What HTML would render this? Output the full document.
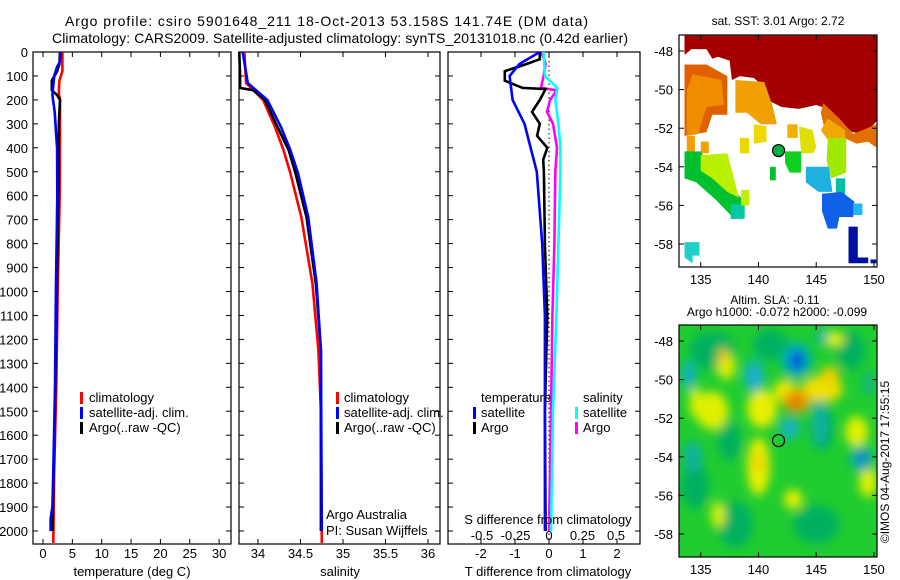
<!DOCTYPE html>
<html><head><meta charset="utf-8">
<style>
html,body{margin:0;padding:0;background:#fff;}
svg{display:block;font-family:"Liberation Sans",sans-serif;}
</style></head>
<body>
<svg id="fig" width="900" height="580" viewBox="0 0 900 580" xmlns="http://www.w3.org/2000/svg">
<defs>
<clipPath id="clipMapTop"><rect x="679" y="35" width="198" height="232"/></clipPath>
<clipPath id="clipMapBot"><rect x="679" y="325" width="198" height="232"/></clipPath>
<filter id="blur6" x="-50%" y="-50%" width="200%" height="200%"><feGaussianBlur stdDeviation="5"/></filter>
</defs>
<text x="65" y="26" font-size="14" textLength="523" lengthAdjust="spacing">Argo profile: csiro 5901648_211 18-Oct-2013 53.158S 141.74E (DM data)</text>
<text x="52" y="43" font-size="14" textLength="576" lengthAdjust="spacing">Climatology: CARS2009. Satellite-adjusted climatology: synTS_20131018.nc (0.42d earlier)</text>
<g id="g"></g>
</svg>
<script>
// ---- data (depth in m) ----
const tempClimDepth = [0,80,120,170,200,330,600,1000,1400,1750,2050];
const tempClimVal   = [3.3,3.3,2.8,2.7,2.9,2.9,2.85,2.5,2.27,1.9,1.75];
const tempSatDepth  = [0,40,62,100,180,250,330,400,600,1000,1400,1750,1900,1950,2000];
const tempSatVal    = [3.05,2.9,2.4,1.9,1.6,2.0,2.2,2.4,2.44,2.2,2.04,1.75,1.6,1.3,1.3];
const tempArgoDepth = [0,50,80,120,160,180,200,300,400,600,1000,1400,1750,2000];
const tempArgoVal   = [2.9,2.8,2.4,1.5,1.5,2.4,2.9,2.7,2.7,2.6,2.35,2.1,1.8,1.6];

const salClimDepth = [0,130,200,313,409,505,689,966,1245,1495,2050];
const salClimVal   = [33.84,33.86,34.06,34.2,34.30,34.38,34.51,34.64,34.71,34.74,34.75];
const salSatDepth  = [0,130,200,313,409,505,689,966,1245,2000];
const salSatVal    = [33.82,33.88,34.11,34.27,34.38,34.47,34.59,34.69,34.74,34.75];
const salArgoDepth = [0,100,150,160,200,313,409,505,689,966,1245,2000];
const salArgoVal   = [33.78,33.79,33.79,33.95,34.08,34.23,34.36,34.44,34.57,34.68,34.74,34.74];

const dTSatDepth  = [0,50,100,200,300,500,800,1100,2000];
const dTSatVal    = [-0.27,-0.87,-1.16,-1.07,-0.72,-0.36,-0.2,-0.12,-0.12];
const dTArgoDepth = [0,30,50,80,120,150,155,200,250,300,350,400,450,500,800,1100,1500,2000];
const dTArgoVal   = [-0.27,-0.27,-0.66,-1.3,-1.3,-0.78,-0.1,-0.27,-0.5,-0.27,-0.35,-0.05,-0.17,-0.15,-0.12,-0.05,-0.12,-0.1];
const dSArgoDepth = [0,50,100,150,160,200,250,300,350,400,500,800,1100,1500,2000];
const dSArgoVal   = [-0.055,-0.025,-0.04,-0.06,0.058,0.008,-0.015,0.03,0.045,0.06,0.047,0.04,0.025,0.015,0.0];
const dSSatDepth  = [0,100,150,200,300,400,500,800,1100,1500,2000];
const dSSatVal    = [-0.04,-0.03,0.062,0.047,0.07,0.085,0.085,0.07,0.055,0.03,0.015];

const depthTicks = [0,100,200,300,400,500,600,700,800,900,1000,1100,1200,1300,1400,1500,1600,1700,1800,1900,2000];
const tempTicks = [0,5,10,15,20,25,30];
const salTicks = [34,34.5,35,35.5,36];
const salTickLabels = ["34","34.5","35","35.5","36"];
const dTTicks = [-2,-1,0,1,2];
const dSTicks = [-0.5,-0.25,0,0.25,0.5];
const dSTickLabels = ["-0.5","-0.25","0","0.25","0.5"];
const lonTicks = [135,140,145,150];
const latTicks = [-48,-50,-52,-54,-56,-58];

// ---- SST map regions: [color, lon/lat polygon pairs]
const sstRegions = [
 ["#a50000",[[133.6,-47.2],[150.3,-47.2],[150.3,-51.6],[149.2,-52.3],[148.1,-52.2],[147,-51.6],[146,-51],[145,-50.8],[143.5,-51],[142,-50.9],[141,-50.6],[140.6,-49.9],[139.6,-49.4],[138.4,-49.3],[137.7,-49.5],[137.5,-48.5],[136.5,-48.3],[136,-48.4],[135.5,-47.9],[134.2,-47.9],[133.6,-48.2]]],
 ["#e06000",[[133.6,-48.7],[135.5,-48.7],[137.3,-49.3],[137.3,-51.3],[136,-51.3],[135.5,-52.2],[133.6,-52.4]]],
 ["#f08c00",[[134.3,-49.2],[136.8,-49.5],[137,-50.8],[135.5,-50.9],[134.8,-52.3],[133.8,-52.4],[133.8,-50]]],
 ["#f0a000",[[138,-49.5],[140.5,-49.6],[141.2,-50.8],[141.6,-51.8],[140.2,-51.8],[139,-51.2],[138,-51.2]]],
 ["#e07000",[[145.6,-50.7],[147,-51.5],[148.2,-52.3],[150.2,-51.8],[150.2,-53.0],[149.5,-52.7],[148.5,-52.8],[147,-52.4],[145.8,-52.2],[145.4,-51.2]]],
 ["#f0a800",[[146,-51.5],[147.5,-52.1],[147.5,-52.6],[146,-52.6],[145.4,-52.1]]],
 ["#f0b000",[[142.5,-51.8],[143.4,-51.8],[143.4,-52.5],[142.5,-52.5]]],
 ["#f0a000",[[133.8,-52.4],[134.5,-52.4],[134.5,-53.6],[133.8,-53.6]]],
 ["#f0a000",[[135,-52.7],[135.7,-52.7],[135.7,-53.3],[135,-53.3]]],
 ["#f0d800",[[139.6,-51.8],[140.7,-51.9],[140.7,-52.7],[139.6,-52.8]]],
 ["#e8d800",[[138.4,-52.5],[139.2,-52.5],[139.2,-53.3],[138.4,-53.3]]],
 ["#e0e000",[[143.5,-51.9],[144.7,-52.1],[145,-53.0],[144.7,-53.3],[143.7,-53.3]]],
 ["#00c030",[[133.6,-53.2],[135,-53.2],[136.2,-54.4],[138,-55.3],[138.8,-55.8],[138.8,-56.6],[137.6,-56.5],[136.3,-55.7],[134.6,-54.8],[133.6,-54.6]]],
 ["#b8f000",[[135,-53.4],[137.3,-53.3],[137.8,-54.4],[138.3,-55.6],[137.3,-55.3],[136,-54.6],[135,-54.2]]],
 ["#00c8a0",[[137.6,-55.9],[138.8,-56.0],[138.8,-56.7],[137.6,-56.7]]],
 ["#c0f000",[[138.5,-55.2],[139.2,-55.2],[139.2,-56],[138.5,-56]]],
 ["#00c030",[[141,-54],[141.5,-54],[141.5,-54.7],[141,-54.7]]],
 ["#10d020",[[142.3,-53.2],[143.7,-53.2],[143.7,-54.3],[142.7,-54.3],[142.3,-53.8]]],
 ["#a0e800",[[146,-52.5],[147.6,-52.5],[147.6,-54.3],[146.3,-54.6],[145.9,-53.7]]],
 ["#20b0e0",[[144.1,-54],[146.1,-54],[146.4,-55.3],[145.2,-55.3],[144.1,-54.8]]],
 ["#00c0a0",[[146.7,-54.6],[147.5,-54.6],[147.5,-55.5],[146.7,-55.5]]],
 ["#1060e8",[[145.5,-55.4],[147.2,-55.3],[148.3,-55.8],[148.2,-56.6],[147,-56.6],[146.8,-57.2],[146,-57.2],[145.5,-56.3]]],
 ["#20b8f0",[[148.2,-55.9],[149,-55.9],[149,-56.5],[148.2,-56.5]]],
 ["#0010a0",[[147.8,-57.1],[148.6,-57.1],[148.6,-58.7],[149.5,-58.7],[149.5,-59.0],[147.8,-59.0]]],
 ["#0010a0",[[149.7,-58.8],[150.2,-58.8],[150.2,-59.0],[149.7,-59.0]]],
 ["#20d0c8",[[133.6,-57.9],[134.9,-57.9],[134.9,-58.6],[134.3,-58.6],[134.3,-59],[133.6,-58.7]]]
];
// ---- SLA map blobs: [color, lon, lat, rx(deg), ry(deg)]
const slaBlobs = [
 ["#00b060",136,-48.5,2.0,1.0],["#00b060",141,-48.2,1.5,0.8],["#00b060",134.5,-55.5,1.2,1.2],
 ["#00b060",138,-57.5,1.5,1.2],["#00b060",145,-57.5,2.0,1.0],["#00b060",148,-48.5,1.2,1.0],
 ["#00b060",137.5,-53.2,1.0,1.0],["#00b060",145.5,-52.5,1.0,1.2],
 ["#e8f000",140.3,-51.5,1.3,1.0],["#e0f000",136,-51.6,1.4,1.0],["#e8f000",140,-54.5,1.0,1.5],
 ["#f0e000",145.5,-50.5,1.8,0.7],["#f0d000",146.2,-49.8,0.8,0.5],["#e8e800",142.3,-50.6,1.0,0.6],
 ["#f0a000",143.3,-51.1,1.2,0.6],["#e07000",143.2,-51.2,0.5,0.35],["#e0f000",148.5,-52.7,1.0,0.8],
 ["#e0f000",149.5,-55.3,0.8,0.8],["#e0f000",137.2,-49.3,0.8,0.7],
 ["#f0c000",136.9,-48.8,0.35,0.45],["#f0d000",140,-54.3,0.45,0.5],["#e8f000",143,-56.2,0.8,0.5],
 ["#d8f000",136.5,-57,0.6,0.7],["#e0f000",146.5,-47.9,0.9,0.4],["#d8f000",134.6,-51.2,0.6,0.8],
 ["#00b890",143.3,-49.0,1.4,1.0],["#1080f0",143.3,-49.0,0.8,0.6],["#0020b0",143.4,-49.0,0.35,0.35],
 ["#10b8b0",134,-49.8,0.6,0.8],["#10a0e0",133.9,-49.6,0.3,0.35],["#10b8b0",139.6,-49.8,0.9,0.9],["#20a8e0",139.7,-49.9,0.4,0.5],
 ["#10b0a0",142.7,-52.5,0.9,0.6],["#20b8e0",142.8,-52.6,0.4,0.3],["#10b0a0",145.3,-52.2,0.7,1.2],
 ["#10b0a0",148.9,-54.1,1.0,0.7],["#1060e0",149,-54.1,0.3,0.4],["#10b0a0",134.3,-54.0,0.8,0.8],
 ["#10b0b0",145.5,-47.8,0.5,0.4],["#10b0a0",149.5,-50.2,0.4,0.6]
];

const SVGNS="http://www.w3.org/2000/svg";
const G=document.getElementById('g');
function mk(tag,attrs,parent){const e=document.createElementNS(SVGNS,tag);for(const k in attrs)e.setAttribute(k,attrs[k]);(parent||G).appendChild(e);return e;}

// axis functions
const Y0=52, YS=0.2395;
function yD(z){return Y0+YS*z;}
function xT(t){return 43+5.87*t;}
function xS(s){return 258+85*(s-34);}
function xdT(d){return 549+34*d;}
function xdS(d){return 549+134*d;}
const PTOP=52, PBOT=544;
const panels=[{x1:33,x2:231},{x1:239,x2:440},{x1:448,x2:640}];

function frame(p,name){
  const r=mk('rect',{x:p.x1,y:PTOP,width:p.x2-p.x1,height:PBOT-PTOP,fill:'none',stroke:'#000','stroke-width':1.2});
  
  
  depthTicks.forEach(z=>{
    mk('line',{x1:p.x1,x2:p.x1+5,y1:yD(z),y2:yD(z),stroke:'#000'});
    mk('line',{x1:p.x2,x2:p.x2-5,y1:yD(z),y2:yD(z),stroke:'#000'});
  });
}
function xticks(vals,fx,labels,ly,name){
  vals.forEach((v,i)=>{
    const x=fx(v);
    mk('line',{x1:x,x2:x,y1:PTOP,y2:PTOP+5,stroke:'#000'});
    mk('line',{x1:x,x2:x,y1:PBOT,y2:PBOT-5,stroke:'#000'});
    if(ly){const t=mk('text',{x:x,y:ly,'font-size':13,'text-anchor':'middle'});t.textContent=labels?labels[i]:String(v);
      
      }
  });
}
function line(xs,zs,fx,color,name){
  let d='';
  for(let i=0;i<xs.length;i++){d+=(i?'L':'M')+fx(xs[i]).toFixed(1)+','+yD(zs[i]).toFixed(1);}
  const p=mk('path',{d:d,fill:'none',stroke:color,'stroke-width':2.6,'stroke-linejoin':'miter'});
  
  
}
function txt(x,y,s,name,extra){const t=mk('text',Object.assign({x:x,y:y,'font-size':13},extra||{}));t.textContent=s;
  
  return t;}
function legBar(x,y,color,name){const r=mk('rect',{x:x,y:y-10,width:3,height:12,fill:color});
  
  }

// Panel 1 temperature
frame(panels[0],'temperature-panel-frame');
depthTicks.forEach(z=>{txt(28,yD(z)+5,String(z),'depth-tick-label',{'text-anchor':'end'});});
xticks(tempTicks,xT,null,558,'temperature-tick-label');
line(tempClimVal,tempClimDepth,xT,'#f00','temperature-climatology-line');
line(tempArgoVal,tempArgoDepth,xT,'#000','temperature-argo-line');
line(tempSatVal,tempSatDepth,xT,'#00f','temperature-satellite-line');
txt(132,576,'temperature (deg C)','temperature-axis-title',{'text-anchor':'middle'});
[['#f00','climatology'],['#00f','satellite-adj. clim.'],['#000','Argo(..raw -QC)']].forEach((l,i)=>{
  legBar(80,402+15*i,l[0],'temperature-legend-swatch');txt(89,402+15*i,l[1],'temperature-legend-entry');});

// Panel 2 salinity
frame(panels[1],'salinity-panel-frame');
xticks(salTicks,xS,salTickLabels,558,'salinity-tick-label');
line(salClimVal,salClimDepth,xS,'#f00','salinity-climatology-line');
line(salArgoVal,salArgoDepth,xS,'#000','salinity-argo-line');
line(salSatVal,salSatDepth,xS,'#00f','salinity-satellite-line');
txt(340,576,'salinity','salinity-axis-title',{'text-anchor':'middle'});
[['#f00','climatology'],['#00f','satellite-adj. clim.'],['#000','Argo(..raw -QC)']].forEach((l,i)=>{
  legBar(336,402+15*i,l[0],'salinity-legend-swatch');txt(344,402+15*i,l[1],'salinity-legend-entry');});
txt(326,519,'Argo Australia','credit-argo-australia');
txt(326,535,'PI: Susan Wijffels','credit-pi');

// Panel 3 differences
frame(panels[2],'difference-panel-frame');
xticks(dTTicks,xdT,null,558,'t-difference-tick-label');
mk('line',{x1:xdT(0),x2:xdT(0),y1:PTOP,y2:PBOT,stroke:'#000','stroke-dasharray':'1.5,3'});
dSTicks.forEach((v,i)=>{txt(xdS(v),540,dSTickLabels[i],'s-difference-tick-label',{'text-anchor':'middle'});});
line(dSArgoVal,dSArgoDepth,xdS,'#f0f','s-difference-argo-line');
line(dSSatVal,dSSatDepth,xdS,'#0ff','s-difference-satellite-line');
line(dTArgoVal,dTArgoDepth,xdT,'#000','t-difference-argo-line');
line(dTSatVal,dTSatDepth,xdT,'#00f','t-difference-satellite-line');
txt(548,524,'S difference from climatology','s-difference-axis-title',{'text-anchor':'middle'});
txt(548,576,'T difference from climatology','t-difference-axis-title',{'text-anchor':'middle'});
txt(481,402,'temperature','legend-temperature-header');
txt(583,402,'salinity','legend-salinity-header');
legBar(473,417,'#00f','legend-t-satellite-swatch');txt(481,417,'satellite','legend-t-satellite');
legBar(473,432,'#000','legend-t-argo-swatch');txt(481,432,'Argo','legend-t-argo');
legBar(575,417,'#0ff','legend-s-satellite-swatch');txt(583,417,'satellite','legend-s-satellite');
legBar(575,432,'#f0f','legend-s-argo-swatch');txt(583,432,'Argo','legend-s-argo');

// Maps
function mlon(lon){return 700.7+11.55*(lon-135);}
function mlat(lat,off){return 51+19.3*(-48-lat)+off;}
function mapAxes(off,name){
  const r=mk('rect',{x:679,y:35+off,width:198,height:232,fill:'none',stroke:'#000','stroke-width':1.2});
  
  
  lonTicks.forEach(l=>{const x=mlon(l);
    mk('line',{x1:x,x2:x,y1:35+off,y2:40+off,stroke:'#000'});
    mk('line',{x1:x,x2:x,y1:267+off,y2:262+off,stroke:'#000'});
    txt(x,284+off,String(l),'map-longitude-label',{'text-anchor':'middle'});});
  latTicks.forEach(l=>{const y=mlat(l,off);
    mk('line',{x1:679,x2:684,y1:y,y2:y,stroke:'#000'});
    mk('line',{x1:877,x2:872,y1:y,y2:y,stroke:'#000'});
    txt(673,y+5,String(l),'map-latitude-label',{'text-anchor':'end'});});
}
// SST map
const gTop=mk('g',{'clip-path':'url(#clipMapTop)'});


sstRegions.forEach(r=>{
  const pts=r[1].map(p=>mlon(p[0]).toFixed(1)+','+mlat(p[1],0).toFixed(1)).join(' ');
  const p=mk('polygon',{points:pts,fill:r[0]},gTop);
  
  
});
mk('circle',{cx:mlon(141.74),cy:mlat(-53.158,0),r:6,fill:'#00b040',stroke:'#000','stroke-width':1.2});
mapAxes(0,'sst-map-frame');
txt(778,25,'sat. SST: 3.01 Argo: 2.72','sst-map-title',{'text-anchor':'middle','font-size':12});

// SLA map
const gBot=mk('g',{'clip-path':'url(#clipMapBot)'});


mk('rect',{x:679,y:325,width:198,height:232,fill:'#20cc30'},gBot);
const gBl=mk('g',{filter:'url(#blur6)'},gBot);
slaBlobs.forEach(b=>{
  const e=mk('ellipse',{cx:mlon(b[1]),cy:mlat(b[2],290),rx:b[3]*11.55,ry:b[4]*19.3,fill:b[0]},gBl);
  
  
});
mk('circle',{cx:mlon(141.74),cy:mlat(-53.158,290),r:6,fill:'none',stroke:'#000','stroke-width':1.2});
mapAxes(290,'sla-map-frame');
txt(775,304,'Altim. SLA: -0.11','sla-map-title',{'text-anchor':'middle','font-size':12});
txt(777,316,'Argo h1000: -0.072 h2000: -0.099','sla-map-subtitle',{'text-anchor':'middle','font-size':12});
txt(0,0,'©IMOS 04-Aug-2017 17:55:15','imos-timestamp',{'text-anchor':'middle','font-size':12,transform:'translate(889,462) rotate(-90)'});
</script>
</body></html>
